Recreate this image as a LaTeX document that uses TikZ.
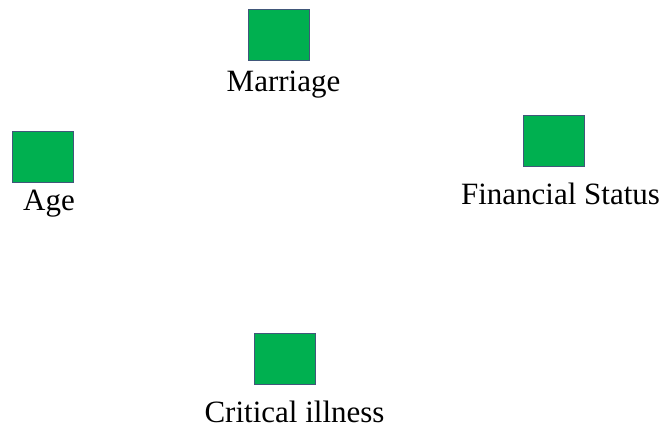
\documentclass[tikz,border=0pt]{standalone}
\usepackage{fontspec}
\setmainfont{Liberation Serif}
\definecolor{boxgreen}{HTML}{00B050}
\definecolor{boxedge}{HTML}{41577A}
\begin{document}
\begin{tikzpicture}[x=1pt,y=-1pt,
  sq/.style={draw=boxedge,line width=0.8pt,fill=boxgreen,minimum width=61pt,minimum height=51pt,inner sep=0pt,outer sep=0pt},
  lbl/.style={anchor=base,inner sep=0pt,font=\fontsize{31}{31}\selectfont}]
\useasboundingbox (0,0) rectangle (663,435);
\node[sq] (marriage) at (278.8,34.8) {};
\node[lbl] (marriageT) at (283.5,91.5) {Marriage};
\node[sq] (age) at (43.2,156.6) {};
\node[lbl] (ageT) at (49,211) {Age};
\node[sq] (fin) at (553.7,140.5) {};
\node[lbl] (finT) at (560.5,204.5) {Financial Status};
\node[sq] (crit) at (284.8,358.7) {};
\node[lbl] (critT) at (294.5,422.5) {Critical illness};
\end{tikzpicture}
\end{document}
